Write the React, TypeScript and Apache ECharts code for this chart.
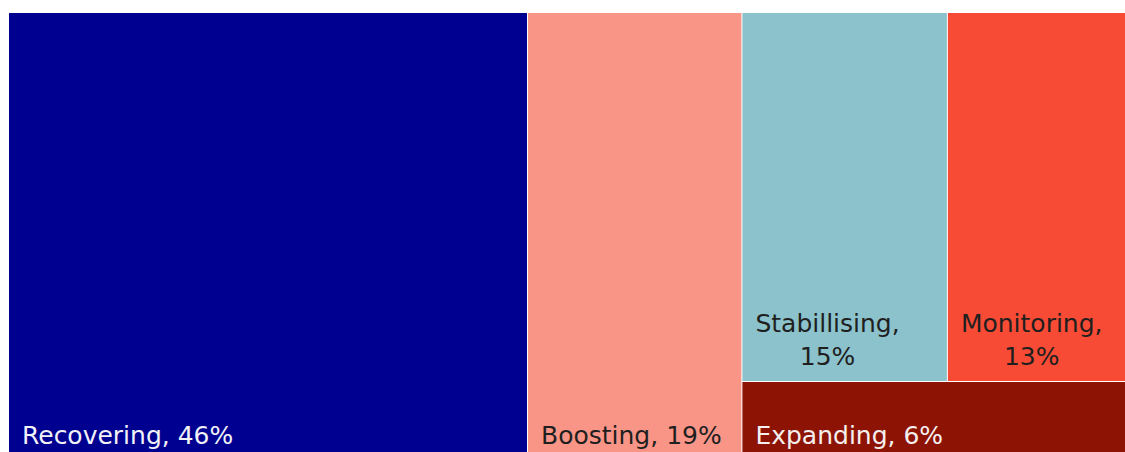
import React, { useEffect, useRef } from "react";
import * as echarts from "echarts";

// ---- data ----
const categories = ["Recovering", "Boosting", "Stabillising", "Monitoring", "Expanding"];
const shares = [46, 19, 15, 13, 6];
// categories nested together in the right-hand block
const rightBlock = ["Stabillising", "Monitoring", "Expanding"];

// ---- style ----
const fillColors: Record<string, string> = {
  Recovering: "#000090",
  Boosting: "#F89587",
  Stabillising: "#8BC2CB",
  Monitoring: "#F74B35",
  Expanding: "#8D1405",
};
const textColors: Record<string, string> = {
  Recovering: "#F2F2F8",
  Boosting: "#1F1F1F",
  Stabillising: "#1F1F1F",
  Monitoring: "#1F1F1F",
  Expanding: "#F5F0F0",
};
const wrapped = new Set(["Stabillising", "Monitoring"]);
const FONT = "DejaVu Sans";
const FS = 25;
const LH = 33;

function measure(text: string): number {
  const c = document.createElement("canvas");
  const ctx = c.getContext("2d")!;
  ctx.font = `${FS}px "${FONT}"`;
  return ctx.measureText(text).width;
}

function leaf(name: string, value: number) {
  const color = textColors[name];
  const isWrapped = wrapped.has(name);
  const l0 = `${name},`;
  const l1 = `${value}%`;
  const w0 = measure(l0);
  const w1 = measure(l1);
  const wm = Math.max(w0, w1);
  const base = { color, fontFamily: FONT, fontSize: FS, lineHeight: LH };
  return {
    name,
    value,
    itemStyle: { color: fillColors[name], borderWidth: 0, gapWidth: 1 },
    label: {
      show: true,
      position: "insideTopLeft",
      distance: 0,
      padding: 0,
      ...base,
      overflow: "none",
      formatter: isWrapped ? `{a|${l0}}\n{b|${l1}}` : `${name}, ${value}%`,
      rich: {
        a: { ...base, padding: [0, 0, 0, (wm - w0) / 2] },
        b: { ...base, padding: [0, 0, 0, (wm - w1) / 2] },
      },
    },
  };
}

export default function App() {
  const ref = useRef<HTMLDivElement>(null);
  useEffect(() => {
    if (!ref.current) return;
    const chart = echarts.init(ref.current, undefined, { renderer: "svg" });

    const top: any[] = [];
    const group: any[] = [];
    categories.forEach((name, i) => {
      const node = leaf(name, shares[i]);
      if (rightBlock.includes(name)) group.push(node);
      else top.push(node);
    });
    const groupValue = group.reduce((s, n) => s + n.value, 0);
    top.push({
      name: "",
      value: groupValue,
      children: group,
      itemStyle: { borderWidth: 0, gapWidth: 1, color: "#fff" },
      upperLabel: { show: false },
      label: { show: false },
    });

    chart.setOption({
      animation: false,
      tooltip: { show: false },
      series: [
        {
          type: "treemap",
          left: 9,
          top: 13,
          right: 0,
          bottom: 10,
          roam: false,
          nodeClick: false,
          sort: false,
          squareRatio: 1.2,
          breadcrumb: { show: false },
          emphasis: { disabled: true },
          itemStyle: { borderWidth: 0, gapWidth: 1, borderColor: "#fff" },
          levels: [
            { itemStyle: { borderWidth: 0, gapWidth: 1 } },
            { itemStyle: { borderWidth: 0, gapWidth: 1 } },
            { itemStyle: { borderWidth: 0, gapWidth: 1 } },
          ],
          labelLayout: (p: any) => {
            const n = String(p.text || "").split("\n").length;
            return {
              x: p.rect.x + 13,
              y: p.rect.y + p.rect.height - 8 - LH * n,
              align: "left",
              verticalAlign: "top",
            };
          },
          data: top,
        },
      ],
    });
    return () => chart.dispose();
  }, []);

  return (
    <div style={{ position: "fixed", left: 0, top: 0, width: 1125, height: 452, overflow: "hidden", background: "#fff" }}>
      <div ref={ref} style={{ width: 1125, height: 470 }} />
    </div>
  );
}
